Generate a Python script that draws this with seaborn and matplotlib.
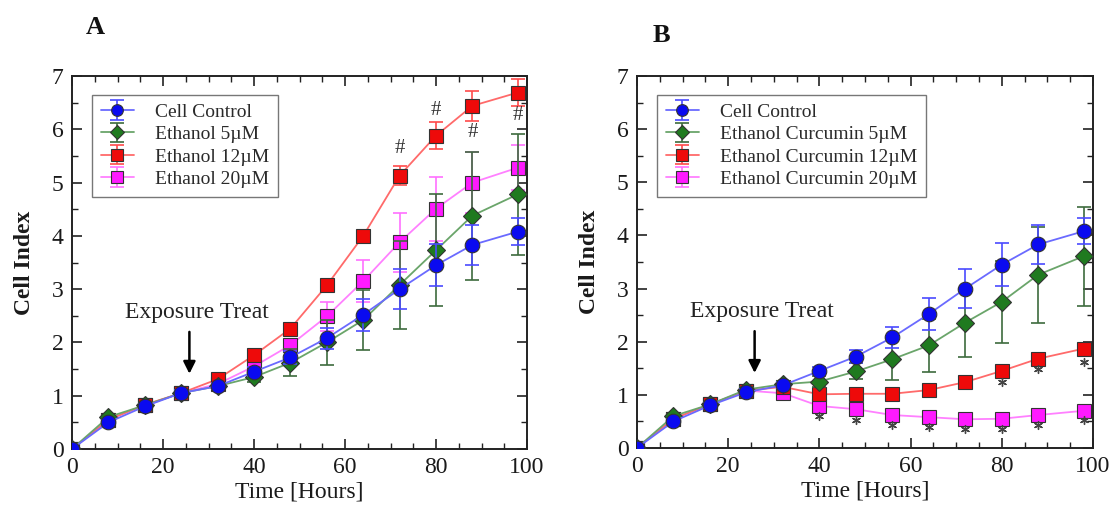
import numpy as np
import pandas as pd
import matplotlib
matplotlib.use("Agg")
import matplotlib.pyplot as plt
import seaborn as sns
from matplotlib.legend_handler import HandlerTuple
from matplotlib.ticker import MultipleLocator

# ---- data -------------------------------------------------------------
hours = [0, 8, 16, 24, 32, 40, 48, 56, 64, 72, 80, 88, 98]

control_mean = [0.0, 0.50, 0.80, 1.05, 1.18, 1.45, 1.72, 2.08, 2.52, 3.00, 3.45, 3.83, 4.08]
control_err = [0.0, 0.04, 0.05, 0.06, 0.06, 0.08, 0.12, 0.20, 0.30, 0.37, 0.40, 0.37, 0.25]

eth5_mean = [0.0, 0.60, 0.82, 1.05, 1.18, 1.35, 1.62, 2.00, 2.42, 3.08, 3.73, 4.38, 4.78]
eth5_err = [0.0, 0.04, 0.05, 0.05, 0.06, 0.10, 0.25, 0.43, 0.57, 0.82, 1.05, 1.20, 1.13]

eth12_mean = [0.0, 0.55, 0.83, 1.05, 1.31, 1.76, 2.26, 3.07, 4.00, 5.13, 5.88, 6.44, 6.69]
eth12_err = [0.0, 0.03, 0.04, 0.05, 0.05, 0.06, 0.08, 0.08, 0.10, 0.18, 0.25, 0.28, 0.25]

eth20_mean = [0.0, 0.55, 0.82, 1.05, 1.22, 1.55, 1.95, 2.49, 3.15, 3.88, 4.51, 5.00, 5.28]
eth20_err = [0.0, 0.03, 0.04, 0.05, 0.05, 0.08, 0.12, 0.27, 0.40, 0.55, 0.60, 0.58, 0.42]

cur5_mean = [0.0, 0.60, 0.82, 1.10, 1.20, 1.25, 1.44, 1.67, 1.93, 2.36, 2.75, 3.26, 3.61]
cur5_err = [0.0, 0.04, 0.05, 0.05, 0.06, 0.10, 0.15, 0.40, 0.50, 0.64, 0.77, 0.90, 0.93]

cur12_mean = [0.0, 0.55, 0.82, 1.08, 1.15, 1.01, 1.02, 1.02, 1.09, 1.24, 1.45, 1.68, 1.87]
cur12_err = [0.0, 0.03, 0.04, 0.04, 0.04, 0.05, 0.05, 0.05, 0.05, 0.05, 0.05, 0.06, 0.06]

cur20_mean = [0.0, 0.55, 0.82, 1.08, 1.03, 0.79, 0.73, 0.62, 0.58, 0.54, 0.55, 0.62, 0.70]
cur20_err = [0.0, 0.03, 0.04, 0.04, 0.04, 0.05, 0.05, 0.05, 0.05, 0.05, 0.05, 0.05, 0.05]

labels_a = ["Cell Control", "Ethanol 5\u00b5M", "Ethanol 12\u00b5M", "Ethanol 20\u00b5M"]
labels_b = ["Cell Control", "Ethanol Curcumin 5\u00b5M",
            "Ethanol Curcumin 12\u00b5M", "Ethanol Curcumin 20\u00b5M"]

# significance marks (#: ethanol vs control, *: curcumin vs ethanol)
hash_x = [72, 80, 88, 98]
hash_y = [5.64, 6.35, 5.94, 6.25]
star_pink_x = [40, 48, 56, 64, 72, 80, 88, 98]
star_pink_y = [0.60, 0.53, 0.43, 0.39, 0.35, 0.35, 0.44, 0.52]
star_red_x = [80, 88, 98]
star_red_y = [1.24, 1.48, 1.61]

# ---- styling ----------------------------------------------------------
sns.set_style("ticks")
plt.rcParams["font.family"] = ["Liberation Serif", "DejaVu Serif"]

styles = [
    # marker, marker face, line colour, errorbar colour
    ("o", "#0a0af0", "#6a6aff", "#4a4aff"),
    ("D", "#1f7a1f", "#6aa56a", "#3d6b3d"),
    ("s", "#ee0a0a", "#ff6a6a", "#ff4a4a"),
    ("s", "#ff1aff", "#ff80ff", "#ff70ff"),
]
msizes = [10.5, 9.5, 10, 10]

fig = plt.figure(figsize=(11.13, 5.17), dpi=100)
ax_a = fig.add_axes([0.0647, 0.1315, 0.4088, 0.7215])
ax_b = fig.add_axes([0.5723, 0.1335, 0.4097, 0.7195])


def draw_panel(ax, means, errs, labels, letter, letter_xy):
    handles = [None] * len(means)
    # later series first so the control curve sits on top
    for i in reversed(range(len(means))):
        mk, face, lcol, ecol = styles[i]
        m, e = means[i], errs[i]
        z = 2 + 2 * (len(means) - i)
        eb = ax.errorbar(hours, m, yerr=e, fmt="none", ecolor=ecol,
                         elinewidth=1.2, capsize=5, capthick=1.2, zorder=z)
        df = pd.DataFrame({"hours": hours, "value": m})
        sns.lineplot(data=df, x="hours", y="value", ax=ax, color=lcol,
                     linewidth=1.3, marker=mk, markersize=msizes[i],
                     markerfacecolor=face, markeredgecolor="#333333",
                     markeredgewidth=0.8, zorder=z + 1, legend=False)
        handles[i] = (eb, ax.get_lines()[-1])

    ax.set_xlim(0, 100)
    ax.set_ylim(0, 7)
    ax.xaxis.set_major_locator(MultipleLocator(20))
    ax.xaxis.set_minor_locator(MultipleLocator(5))
    ax.yaxis.set_major_locator(MultipleLocator(1))
    ax.yaxis.set_minor_locator(MultipleLocator(0.5))
    ax.tick_params(which="both", direction="in", top=True, right=True,
                   colors="#222222", labelcolor="#1a1a1a", labelsize=17)
    ax.tick_params(which="major", length=7, width=1.2, pad=6)
    ax.tick_params(which="minor", length=4, width=1.0)
    for sp in ax.spines.values():
        sp.set_linewidth(1.4)
        sp.set_color("#222222")
        sp.set_visible(True)

    leg = ax.legend(handles, labels, loc="upper left",
                    bbox_to_anchor=(0.044, 0.950), borderaxespad=0,
                    handler_map={tuple: HandlerTuple(ndivide=1)},
                    fontsize=14, frameon=True, fancybox=False,
                    handlelength=1.7, handletextpad=1.1, markerscale=0.8,
                    labelspacing=0.24, borderpad=0.45)
    leg.set_zorder(20)
    leg.get_frame().set_edgecolor("#555555")
    leg.get_frame().set_linewidth(1.0)
    for t in leg.get_texts():
        t.set_color("#2a2a2a")

    # treatment marker
    ax.text(27.5, 2.57, "Exposure Treat", fontsize=17, color="#222222",
            ha="center", va="center")
    ax.annotate("", xy=(25.8, 1.36), xytext=(25.8, 2.25),
                arrowprops=dict(arrowstyle="-|>", color="black", lw=1.8,
                                mutation_scale=18))

    fig.text(letter_xy[0], letter_xy[1], letter, fontsize=19,
             fontweight="bold", ha="center", va="center", color="#111111")


draw_panel(ax_a,
           [control_mean, eth5_mean, eth12_mean, eth20_mean],
           [control_err, eth5_err, eth12_err, eth20_err],
           labels_a, "A", (95 / 1113, 1 - 28 / 517))
draw_panel(ax_b,
           [control_mean, cur5_mean, cur12_mean, cur20_mean],
           [control_err, cur5_err, cur12_err, cur20_err],
           labels_b, "B", (661 / 1113, 1 - 35 / 517))

for x, y in zip(hash_x, hash_y):
    ax_a.text(x, y, "#", fontsize=15, color="#333333", ha="center",
              va="center", zorder=15)

stars = pd.DataFrame({"hours": star_pink_x + star_red_x,
                      "value": star_pink_y + star_red_y})
sns.scatterplot(data=stars, x="hours", y="value", ax=ax_b,
                marker=(6, 2, 0), s=32, color="#444444", linewidth=1.0,
                zorder=15, legend=False)

for ax in (ax_a, ax_b):
    ax.set_xlabel("Time [Hours]", fontsize=17, color="#1a1a1a", labelpad=2)
    ax.set_ylabel("Cell Index", fontsize=17, fontweight="bold",
                  color="#1a1a1a", labelpad=12)

fig.savefig("out.png", dpi=100)
